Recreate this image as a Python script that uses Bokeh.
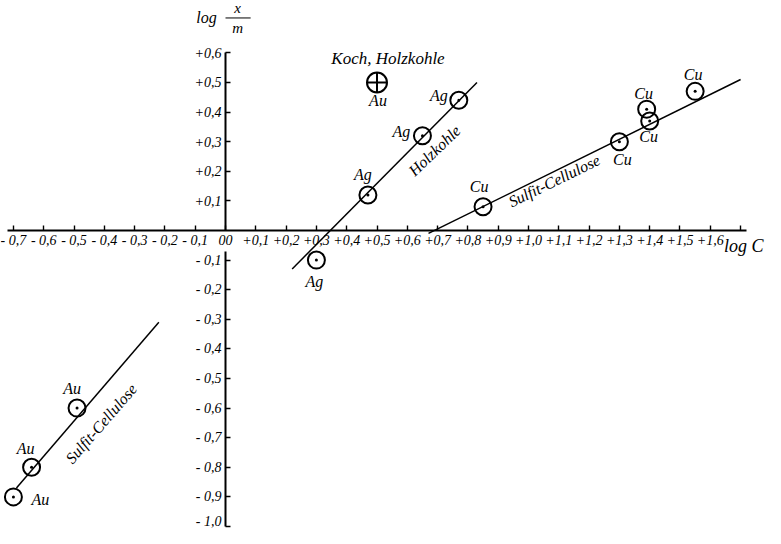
import math
from bokeh.plotting import figure
from bokeh.models import Range1d, FixedTicker, LinearAxis, ColumnDataSource
from bokeh.core.properties import value
from bokeh.embed import file_html
from bokeh.resources import INLINE

# ---------------- data ----------------
ag_x = [0.30, 0.47, 0.65, 0.77]
ag_y = [-0.10, 0.12, 0.32, 0.44]
cu_x = [0.85, 1.30, 1.39, 1.40, 1.55]
cu_y = [0.08, 0.30, 0.41, 0.37, 0.47]
au_x = [-0.49, -0.64, -0.70]
au_y = [-0.60, -0.80, -0.90]
koch_x = [0.50]
koch_y = [0.50]

holz_line_x = [0.22, 0.83]
holz_line_y = [-0.13, 0.50]
cu_line_x = [0.67, 1.70]
cu_line_y = [-0.01, 0.51]
au_line_x = [-0.69, -0.22]
au_line_y = [-0.87, -0.31]

x_ticks = [-0.7, -0.6, -0.5, -0.4, -0.3, -0.2, -0.1, 0.0, 0.1, 0.2, 0.3, 0.4, 0.5,
           0.6, 0.7, 0.8, 0.9, 1.0, 1.1, 1.2, 1.3, 1.4, 1.5, 1.6, 1.7]
x_tick_labels = ["- 0,7", "- 0,6", "- 0,5", "- 0,4", "- 0,3", "- 0,2", "- 0,1", "00",
                 "+0,1", "+0,2", "+0,3", "+0,4", "+0,5", "+0,6", "+0,7", "+0,8", "+0,9",
                 "+1,0", "+1,1", "+1,2", "+1,3", "+1,4", "+1,5", "+1,6", ""]
y_ticks_pos = [0.1, 0.2, 0.3, 0.4, 0.5, 0.6]
y_labels_pos = ["+0,1", "+0,2", "+0,3", "+0,4", "+0,5", "+0,6"]
y_ticks_neg = [-0.1, -0.2, -0.3, -0.4, -0.5, -0.6, -0.7, -0.8, -0.9, -1.0]
y_labels_neg = ["- 0,1", "- 0,2", "- 0,3", "- 0,4", "- 0,5", "- 0,6", "- 0,7", "- 0,8",
                "- 0,9", "- 1,0"]

# ---------------- styling ----------------
FONT = "Liberation Serif"
ag_off = [(-2, 21), (-5, -20), (-21, -4), (-20, -5)]
cu_off = [(-4, -20), (3, 18), (-3, -16), (-1, 16), (-2, -17)]
au_off = [(-5, -20), (-6, -19), (27, 3)]

p = figure(width=765, height=528, output_backend="svg", toolbar_location=None,
           x_range=Range1d(-0.7426, 1.7822), y_range=Range1d(-1.0068, 0.777),
           min_border=0, x_axis_type=None, y_axis_type=None)
p.outline_line_color = None
p.xgrid.visible = False
p.ygrid.visible = False


def style_axis(ax):
    ax.axis_line_width = 2
    ax.axis_line_color = "black"
    ax.major_tick_line_width = 1.4
    ax.major_tick_in = 5
    ax.major_tick_out = 0
    ax.minor_tick_in = 0
    ax.minor_tick_out = 0
    ax.major_label_text_font = FONT
    ax.major_label_text_font_style = "italic"
    ax.major_label_text_font_size = "14px"
    ax.major_label_text_color = "black"


xax = LinearAxis(fixed_location=0, ticker=FixedTicker(ticks=x_ticks),
                 major_label_overrides=dict(zip(x_ticks, x_tick_labels)),
                 bounds=(-0.72, 1.72))
style_axis(xax)
xax.major_label_standoff = 3
p.add_layout(xax, "below")

yax_up = LinearAxis(fixed_location=0, ticker=FixedTicker(ticks=y_ticks_pos),
                    major_label_overrides=dict(zip(y_ticks_pos, y_labels_pos)),
                    bounds=(0, 0.6))
style_axis(yax_up)
yax_up.major_label_standoff = 4
p.add_layout(yax_up, "left")

yax_dn = LinearAxis(fixed_location=0, ticker=FixedTicker(ticks=y_ticks_neg),
                    major_label_overrides=dict(zip(y_ticks_neg, y_labels_neg)),
                    bounds=(-1.0, -0.07))
style_axis(yax_dn)
yax_dn.major_label_standoff = 4
p.add_layout(yax_dn, "left")

# fitted lines
for lx, ly in [(holz_line_x, holz_line_y), (cu_line_x, cu_line_y), (au_line_x, au_line_y)]:
    p.line(lx, ly, line_color="black", line_width=1.5)

# points: circle with centre dot
for xs, ys in [(ag_x, ag_y), (cu_x, cu_y), (au_x, au_y)]:
    p.scatter(xs, ys, marker="circle", size=17, fill_color="white", fill_alpha=0.0,
              line_color="black", line_width=2)
    p.scatter(xs, ys, marker="circle", size=3, fill_color="black", line_color=None)

p.scatter(koch_x, koch_y, marker="circle_cross", size=20, fill_alpha=0.0,
          line_color="black", line_width=2)


def labels(xs, ys, txt, offs, size="16px"):
    src = ColumnDataSource(dict(x=xs, y=ys, t=[txt] * len(xs),
                                dx=[o[0] for o in offs], dy=[o[1] for o in offs]))
    p.text("x", "y", text="t", x_offset="dx", y_offset="dy", source=src,
           text_font=value(FONT), text_font_style="italic", text_font_size=size,
           text_align="center", text_baseline="middle", text_color="black")


labels(ag_x, ag_y, "Ag", ag_off)
labels(cu_x, cu_y, "Cu", cu_off)
labels(au_x, au_y, "Au", au_off)
labels(koch_x, koch_y, "Au", [(1, 18)])
labels(koch_x, koch_y, "Koch, Holzkohle", [(11, -24)], size="17px")

# line labels (rotated along the lines)
p.text(x=[0.690], y=[0.270], text=["Holzkohle"], angle=math.radians(44),
       text_font=value(FONT), text_font_style="italic", text_font_size="16px",
       text_align="center", text_baseline="middle")
p.text(x=[1.085], y=[0.168], text=["Sulfit-Cellulose"], angle=math.radians(26),
       text_font=value(FONT), text_font_style="italic", text_font_size="16px",
       text_align="center", text_baseline="middle")
p.text(x=[-0.410], y=[-0.652], text=["Sulfit-Cellulose"], angle=math.radians(49),
       text_font=value(FONT), text_font_style="italic", text_font_size="16px",
       text_align="center", text_baseline="middle")

# axis titles
p.text(x=[1.645], y=[-0.051], text=["log C"], text_font=value(FONT),
       text_font_style="italic", text_font_size="18px", text_align="left",
       text_baseline="middle")
p.text(x=[-0.063], y=[0.718], text=["log"], text_font=value(FONT),
       text_font_style="italic", text_font_size="16px", text_align="center",
       text_baseline="middle")
p.segment(x0=[0.0], y0=[0.718], x1=[0.083], y1=[0.718], line_color="black", line_width=1)
p.text(x=[0.040], y=[0.724], text=["x"], text_font=value(FONT),
       text_font_style="italic", text_font_size="15px", text_align="center",
       text_baseline="bottom")
p.text(x=[0.040], y=[0.710], text=["m"], text_font=value(FONT),
       text_font_style="italic", text_font_size="15px", text_align="center",
       text_baseline="top")

open("out.html", "w").write(file_html(p, INLINE))
